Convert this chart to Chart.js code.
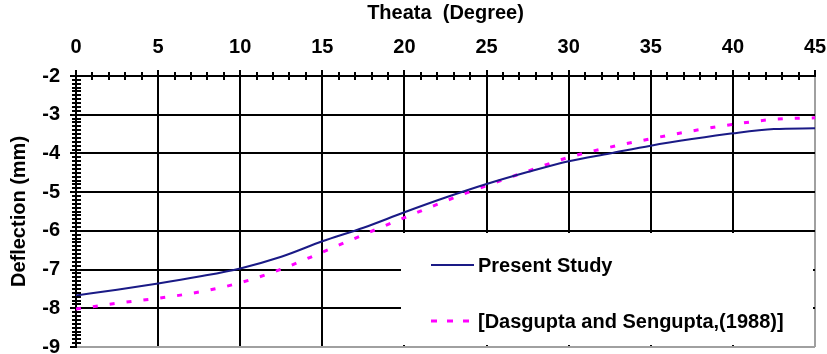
<!DOCTYPE html>
<html>
<head>
<meta charset="utf-8">
<script src="https://cdn.jsdelivr.net/npm/chart.js@4/dist/chart.umd.min.js"></script>
<style>
  html, body { margin: 0; padding: 0; background: #fff; }
  #wrap { width: 827px; height: 354px; }
</style>
</head>
<body>
<div id="wrap"><canvas id="chart" width="827" height="354"></canvas></div>
<script>
// theta in degrees, deflection in mm
const theta = [0, 2.5, 5, 7.5, 10, 12.5, 15, 17.5, 20, 22.5, 25, 27.5, 30, 32.5, 35, 37.5, 40, 42.5, 45];
const presentStudy = [-7.67, -7.52, -7.36, -7.18, -6.97, -6.67, -6.27, -5.92, -5.52, -5.14, -4.79, -4.48, -4.2, -4.0, -3.8, -3.63, -3.48, -3.37, -3.35];
const dasgupta = [-8.02, -7.87, -7.74, -7.58, -7.34, -6.99, -6.55, -6.1, -5.66, -5.23, -4.83, -4.46, -4.1, -3.84, -3.62, -3.42, -3.25, -3.12, -3.08];

const xTicks = [0, 5, 10, 15, 20, 25, 30, 35, 40, 45];
const yTicks = [-9, -8, -7, -6, -5, -4, -3, -2];
const seriesNames = ["Present Study", "[Dasgupta and Sengupta,(1988)]"];

const FONT = "'Liberation Sans', Arial, sans-serif";
const BLUE = "#1a1a86";
const PINK = "#ff00ff";
const EDGE = "#a0a0a0";

const pts = (ys) => theta.map((t, i) => ({ x: t, y: ys[i] }));

// minor ticks crossing the axes
const minorTicks = {
  id: "minorTicks",
  afterDraw(chart) {
    const { ctx, chartArea: a, scales: { x, y } } = chart;
    ctx.save();
    ctx.strokeStyle = "#000";
    ctx.lineWidth = 2;
    ctx.beginPath();
    for (let v = x.min; v <= x.max; v++) {
      if (v % 5 === 0) continue;
      const px = Math.round(x.getPixelForValue(v));
      ctx.moveTo(px, a.top - 4);
      ctx.lineTo(px, a.top + 4);
    }
    for (let k = y.min * 10; k <= y.max * 10; k++) {
      if (k % 10 === 0) continue;
      const py = Math.round(y.getPixelForValue(k / 10));
      ctx.moveTo(a.left - 4, py);
      ctx.lineTo(a.left + 5, py);
    }
    ctx.stroke();
    ctx.restore();
  }
};

// legend drawn as a white box inside the plot, lower right
const boxLegend = {
  id: "boxLegend",
  afterDatasetsDraw(chart) {
    const { ctx, chartArea: a } = chart;
    const w = a.right - a.left, h = a.bottom - a.top;
    const left = Math.floor(a.left + w * 0.44);
    const top = a.top + h * 0.572 + 2;
    ctx.save();
    ctx.fillStyle = "#fff";
    ctx.fillRect(left, top, a.right - 2 - left, a.bottom - 2 - top);

    ctx.font = "bold 20px " + FONT;
    ctx.textBaseline = "middle";
    ctx.fillStyle = "#000";
    const rows = [top + 32, top + 88];
    chart.data.datasets.forEach((ds, i) => {
      const yy = rows[i];
      ctx.beginPath();
      ctx.strokeStyle = ds.borderColor;
      ctx.lineWidth = i === 0 ? 2 : 3;
      ctx.setLineDash(i === 0 ? [] : [6, 10]);
      ctx.moveTo(left + 30, yy);
      ctx.lineTo(left + 73, yy);
      ctx.stroke();
      ctx.setLineDash([]);
      ctx.fillText(ds.label, left + 77, yy + 1);
    });
    ctx.restore();
  }
};

const tickFont = { family: FONT, size: 20, weight: "bold" };

new Chart(document.getElementById("chart"), {
  type: "line",
  data: {
    datasets: [
      {
        label: seriesNames[0],
        data: pts(presentStudy),
        borderColor: BLUE,
        borderWidth: 2,
        pointRadius: 0,
        cubicInterpolationMode: "monotone",
        fill: false
      },
      {
        label: seriesNames[1],
        data: pts(dasgupta),
        borderColor: PINK,
        borderWidth: 3,
        borderDash: [5, 12],
        pointRadius: 0,
        cubicInterpolationMode: "monotone",
        fill: false
      }
    ]
  },
  options: {
    responsive: false,
    animation: false,
    layout: { padding: { top: 0, left: 0, right: 12, bottom: 7 } },
    plugins: { legend: { display: false }, tooltip: { enabled: false } },
    scales: {
      x: {
        type: "linear",
        position: "top",
        min: 0,
        max: 45,
        afterBuildTicks: (s) => { s.ticks = xTicks.map(v => ({ value: v })); },
        afterFit: (s) => { s.height = 76; s.paddingLeft = 0; s.paddingRight = 0; },
        ticks: { color: "#000", font: tickFont, padding: 11, maxRotation: 0 },
        grid: {
          color: (c) => (c.tick && c.tick.value === 45 ? EDGE : "#000"),
          lineWidth: 2,
          tickLength: 6,
          tickColor: "#000"
        },
        border: { color: "#000", width: 2 },
        title: {
          display: true,
          text: "Theata  (Degree)",
          color: "#000",
          font: tickFont,
          padding: { top: 1, bottom: 0 }
        }
      },
      y: {
        min: -9,
        max: -2,
        afterBuildTicks: (s) => { s.ticks = yTicks.map(v => ({ value: v })); },
        afterFit: (s) => { s.width = 76; s.paddingTop = 0; s.paddingBottom = 0; },
        ticks: { color: "#000", font: tickFont, padding: 10 },
        grid: {
          color: (c) => (c.tick && c.tick.value === -9 ? EDGE : "#000"),
          lineWidth: 2,
          tickLength: 6,
          tickColor: "#000"
        },
        border: { color: "#000", width: 2 },
        title: {
          display: true,
          text: "Deflection (mm)",
          color: "#000",
          font: tickFont,
          padding: { top: 7, bottom: 0 }
        }
      }
    }
  },
  plugins: [boxLegend, minorTicks]
});
</script>
</body>
</html>
